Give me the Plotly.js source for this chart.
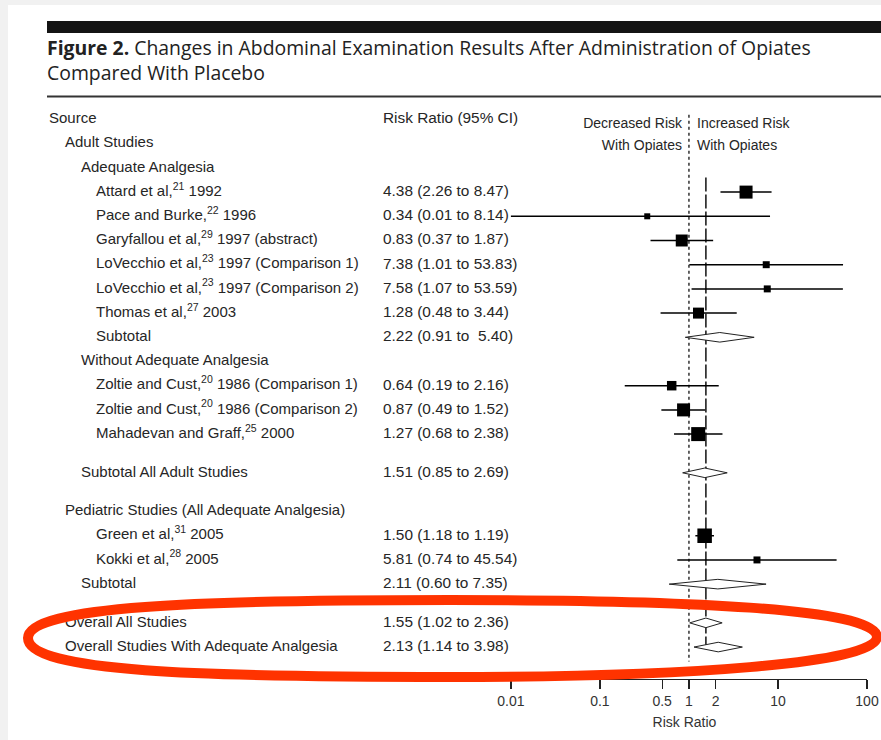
<!DOCTYPE html>
<html><head><meta charset="utf-8">
<script src="https://cdn.plot.ly/plotly-3.0.1.min.js"></script>
<style>html,body{margin:0;padding:0;background:#f1f1f1;}#chart{width:881px;height:740px;}</style>
</head><body><div id="chart"></div>
<script>
// ---------------- data ----------------
const titleText = "<b>Figure 2.</b> Changes in Abdominal Examination Results After Administration of Opiates<br>Compared With Placebo";
const colHeaders = ["Source", "Risk Ratio (95% CI)"];
const directionLeft = ["Decreased Risk", "With Opiates"];
const directionRight = ["Increased Risk", "With Opiates"];
const headings = ["Adult Studies", "Adequate Analgesia", "Without Adequate Analgesia", "Pediatric Studies (All Adequate Analgesia)"];

const studyNames = [
  "Attard et al,<sup>21</sup> 1992",
  "Pace and Burke,<sup>22</sup> 1996",
  "Garyfallou et al,<sup>29</sup> 1997 (abstract)",
  "LoVecchio et al,<sup>23</sup> 1997 (Comparison 1)",
  "LoVecchio et al,<sup>23</sup> 1997 (Comparison 2)",
  "Thomas et al,<sup>27</sup> 2003",
  "Zoltie and Cust,<sup>20</sup> 1986 (Comparison 1)",
  "Zoltie and Cust,<sup>20</sup> 1986 (Comparison 2)",
  "Mahadevan and Graff,<sup>25</sup> 2000",
  "Green et al,<sup>31</sup> 2005",
  "Kokki et al,<sup>28</sup> 2005"
];
const studyRR = [4.38, 0.34, 0.83, 7.38, 7.58, 1.28, 0.64, 0.87, 1.27, 1.50, 5.81];
const studyLo = [2.26, 0.01, 0.37, 1.01, 1.07, 0.48, 0.19, 0.49, 0.68, 1.18, 0.74];
const studyHi = [8.47, 8.14, 1.87, 53.83, 53.59, 3.44, 2.16, 1.52, 2.38, 1.91, 45.54];
const studyCI = [
  "4.38 (2.26 to 8.47)", "0.34 (0.01 to 8.14)", "0.83 (0.37 to 1.87)",
  "7.38 (1.01 to 53.83)", "7.58 (1.07 to 53.59)", "1.28 (0.48 to 3.44)",
  "0.64 (0.19 to 2.16)", "0.87 (0.49 to 1.52)", "1.27 (0.68 to 2.38)",
  "1.50 (1.18 to 1.19)", "5.81 (0.74 to 45.54)"
];
const studyWeight = [13.2, 2.8, 11.2, 3.8, 3.8, 9.4, 7.0, 13.2, 15.3, 16.4, 3.8];

const summaryNames = ["Subtotal", "Subtotal All Adult Studies", "Subtotal", "Overall All Studies", "Overall Studies With Adequate Analgesia"];
const summaryRR = [2.22, 1.51, 2.11, 1.55, 2.13];
const summaryLo = [0.91, 0.85, 0.60, 1.02, 1.14];
const summaryHi = [5.40, 2.69, 7.35, 2.36, 3.98];
const summaryCI = ["2.22 (0.91 to\u00a0 5.40)", "1.51 (0.85 to 2.69)", "2.11 (0.60 to 7.35)", "1.55 (1.02 to 2.36)", "2.13 (1.14 to 3.98)"];

const tickVals = [0.01, 0.1, 0.5, 1, 2, 10, 100];
const tickText = ["0.01", "0.1", "0.5", "1", "2", "10", "100"];
const xAxisTitle = "Risk Ratio";

// ---------------- layout geometry ----------------
const W = 881, H = 740;
const PLOT_BOTTOM = 679;         // pixel row of the x axis line
const ROW0 = 119.5, STEP = 24.2; // pixel centre of first row, row pitch
const indentPx = [49, 65, 81, 96];
const ciColPx = 383;
const AX_LEFT = 502, AX_RIGHT = 867;
const FONT = "Liberation Sans, Arial, Helvetica, sans-serif";
const TXT = "#262626";

const px2paperX = px => px / W;
const px2paperY = py => (PLOT_BOTTOM - py) / PLOT_BOTTOM;
const yTop = -ROW0 / STEP, yBottom = (PLOT_BOTTOM - ROW0) / STEP;

// ---------------- row plan ----------------
const rows = [];
let r = 0;
function add(label, indent, ci, kind, idx) { rows.push({ y: r, label, indent, ci, kind, idx }); r += 1; }
function gap() { r += 0.6; }
add(colHeaders[0], 0, colHeaders[1], "header");
add(headings[0], 1, "", "heading");
add(headings[1], 2, "", "heading");
for (let i = 0; i <= 5; i++) add(studyNames[i], 3, studyCI[i], "study", i);
add(summaryNames[0], 3, summaryCI[0], "summary", 0);
add(headings[2], 2, "", "heading");
for (let i = 6; i <= 8; i++) add(studyNames[i], 3, studyCI[i], "study", i);
gap(); add(summaryNames[1], 2, summaryCI[1], "summary", 1);
gap(); add(headings[3], 1, "", "heading");
for (let i = 9; i <= 10; i++) add(studyNames[i], 3, studyCI[i], "study", i);
add(summaryNames[2], 2, summaryCI[2], "summary", 2);
gap(); add(summaryNames[3], 1, summaryCI[3], "summary", 3);
add(summaryNames[4], 1, summaryCI[4], "summary", 4);
const lastRow = rows[rows.length - 1].y;
const firstStudyRow = rows.find(d => d.kind === "study").y;

// ---------------- traces ----------------
const traces = [];
const textCommon = { type: "scatter", mode: "text", xaxis: "x", yaxis: "y", cliponaxis: false,
  hoverinfo: "skip", marker: { size: 0 }, showlegend: false,
  textfont: { family: FONT, size: 15, color: TXT } };

traces.push(Object.assign({}, textCommon, {
  x: rows.map(d => indentPx[d.indent]), y: rows.map(d => d.y), text: rows.map(d => d.label),
  textposition: "middle right"
}));
const ciRows = rows.filter(d => d.ci);
traces.push(Object.assign({}, textCommon, {
  x: ciRows.map(() => ciColPx), y: ciRows.map(d => d.y), text: ciRows.map(d => d.ci),
  textposition: "middle right", textfont: { family: FONT, size: 15.4, color: TXT }
}));
// direction labels
traces.push(Object.assign({}, textCommon, {
  x: [682, 682], y: [0.2, 1.1], text: directionLeft, textposition: "middle left",
  textfont: { family: FONT, size: 14, color: TXT }
}));
traces.push(Object.assign({}, textCommon, {
  x: [697, 697], y: [0.2, 1.1], text: directionRight, textposition: "middle right",
  textfont: { family: FONT, size: 14, color: TXT }
}));

// CI lines for studies
const studyRows = rows.filter(d => d.kind === "study");
const ciX = [], ciY = [];
studyRows.forEach(d => { ciX.push(studyLo[d.idx], studyHi[d.idx], null); ciY.push(d.y, d.y, null); });
traces.push({ type: "scatter", mode: "lines", xaxis: "x2", yaxis: "y", x: ciX, y: ciY,
  line: { color: "#000", width: 1.5 }, hoverinfo: "skip", showlegend: false });
// squares
traces.push({ type: "scatter", mode: "markers", xaxis: "x2", yaxis: "y",
  x: studyRows.map(d => studyRR[d.idx]), y: studyRows.map(d => d.y),
  marker: { symbol: "square", color: "#000", opacity: 1,
    size: studyRows.map(d => 3.58 * Math.sqrt(studyWeight[d.idx])), line: { width: 0 } },
  hoverinfo: "skip", showlegend: false });
// diamonds
const halfH = 4.8 / STEP;
rows.filter(d => d.kind === "summary").forEach(d => {
  const i = d.idx;
  traces.push({ type: "scatter", mode: "lines", xaxis: "x2", yaxis: "y", fill: "toself",
    fillcolor: "#ffffff", line: { color: "#222", width: 1 },
    x: [summaryLo[i], summaryRR[i], summaryHi[i], summaryRR[i], summaryLo[i]],
    y: [d.y, d.y - halfH, d.y, d.y + halfH, d.y],
    hoverinfo: "skip", showlegend: false });
});

// ---------------- shapes ----------------
function P(x, y) { return px2paperX(x).toFixed(5) + "," + px2paperY(y).toFixed(5); }
const ellipsePath = "M" + P(28, 638) +
  " C" + P(28, 606) + " " + P(200, 600) + " " + P(450, 600) +
  " C" + P(680, 600) + " " + P(877, 608) + " " + P(877, 637) +
  " C" + P(877, 664) + " " + P(680, 677) + " " + P(450, 677) +
  " C" + P(200, 677) + " " + P(28, 672) + " " + P(28, 638) + " Z";

const shapes = [
  { type: "rect", xref: "paper", yref: "paper", layer: "below",
    x0: px2paperX(8), x1: px2paperX(W + 5), y0: px2paperY(H + 5), y1: px2paperY(5),
    fillcolor: "#ffffff", line: { width: 0 } },
  { type: "rect", xref: "paper", yref: "paper", layer: "above",
    x0: px2paperX(47), x1: px2paperX(W + 5), y0: px2paperY(33), y1: px2paperY(21),
    fillcolor: "#141414", line: { width: 0 } },
  { type: "line", xref: "paper", yref: "paper", layer: "above",
    x0: px2paperX(47), x1: px2paperX(W + 5), y0: px2paperY(96.5), y1: px2paperY(96.5),
    line: { color: "#333", width: 2 } },
  { type: "line", xref: "x2", yref: "y", layer: "below", x0: 1, x1: 1, y0: -0.2, y1: lastRow + 0.6,
    line: { color: "#111", width: 1.3, dash: "dot" } },
  { type: "line", xref: "x2", yref: "y", layer: "below", x0: summaryRR[3], x1: summaryRR[3],
    y0: firstStudyRow - 0.6, y1: lastRow, line: { color: "#111", width: 1.5, dash: "14px,3px" } },
  { type: "path", xref: "paper", yref: "paper", layer: "above", path: ellipsePath,
    line: { color: "#ff3300", width: 10 }, fillcolor: "rgba(0,0,0,0)" }
];

const layout = {
  width: W, height: H,
  margin: { l: 0, r: 0, t: 0, b: H - PLOT_BOTTOM, pad: 0 },
  paper_bgcolor: "#f1f1f1", plot_bgcolor: "rgba(0,0,0,0)",
  showlegend: false,
  title: { text: titleText, xref: "container", yref: "container", x: 47 / W, xanchor: "left",
    y: 1 - 55 / H, yanchor: "top", font: { family: "Open Sans, Lato, sans-serif", size: 19.4, color: "#222" } },
  xaxis: { domain: [0, 1], range: [0, W], visible: false, fixedrange: true },
  xaxis2: { type: "log", domain: [AX_LEFT / W, AX_RIGHT / W], range: [-2.1, 2], anchor: "y",
    tickmode: "array", tickvals: tickVals, ticktext: tickText,
    ticks: "outside", ticklen: 9, tickwidth: 1.3, tickcolor: "#222",
    showline: true, linecolor: "#222", linewidth: 1.3, showgrid: false, zeroline: false,
    tickfont: { family: FONT, size: 14, color: "#333" },
    title: { text: xAxisTitle, font: { family: FONT, size: 14, color: "#333" }, standoff: 9 } },
  yaxis: { domain: [0, 1], range: [yBottom, yTop], visible: false, fixedrange: true },
  shapes: shapes
};

Plotly.newPlot("chart", traces, layout, { displayModeBar: false, staticPlot: true });
</script></body></html>
